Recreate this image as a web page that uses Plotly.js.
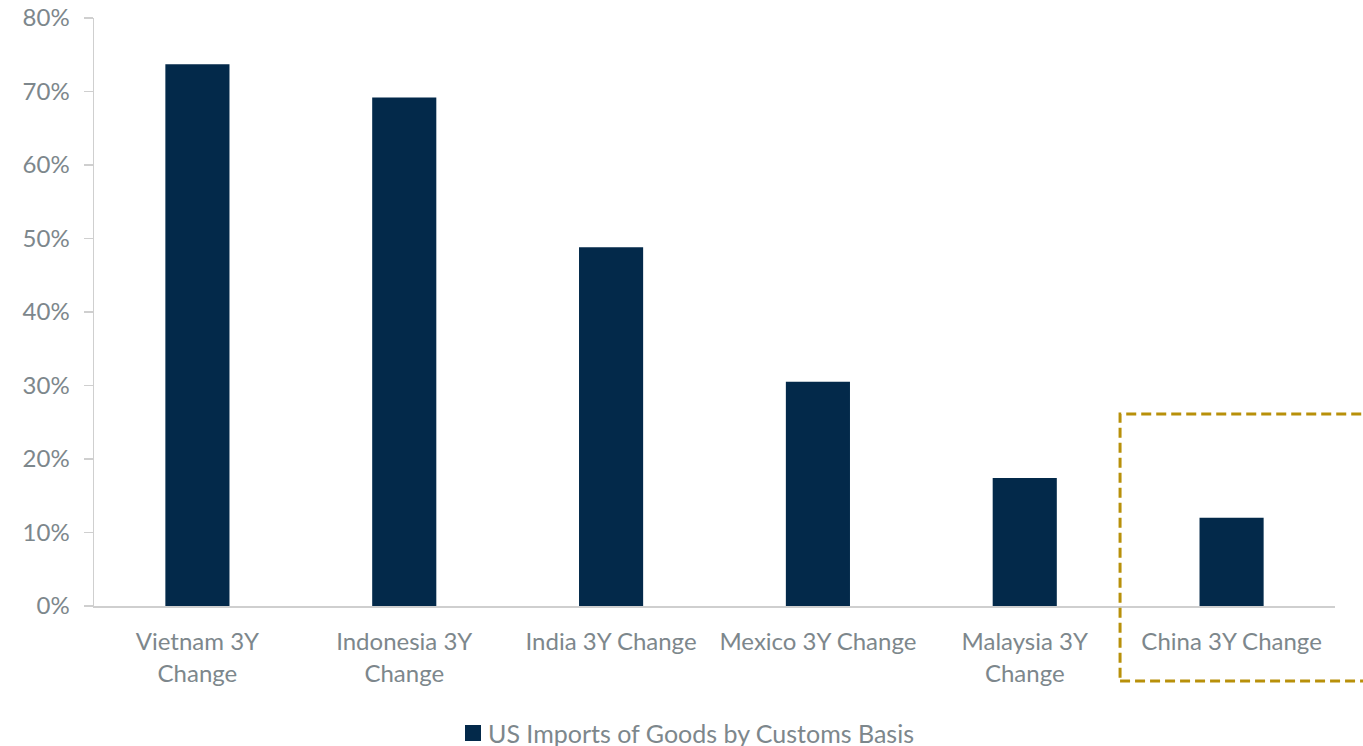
<!DOCTYPE html>
<html>
<head>
<meta charset="utf-8">
<script src="https://cdn.plot.ly/plotly-3.0.1.min.js"></script>
<style>
  html, body { margin: 0; padding: 0; background: #ffffff; }
  #chart { width: 1363px; height: 746px; }
</style>
</head>
<body>
<div id="chart"></div>
<script>
// Three-year change in US goods imports, by trading partner
const categories = [
  "Vietnam 3Y<br>Change",
  "Indonesia 3Y<br>Change",
  "India 3Y Change",
  "Mexico 3Y Change",
  "Malaysia 3Y<br>Change",
  "China 3Y Change"
];
const changeValues = [0.737, 0.692, 0.488, 0.305, 0.174, 0.120];
const seriesName = "US Imports of Goods by Customs Basis";
const yTickValues = [0, 0.1, 0.2, 0.3, 0.4, 0.5, 0.6, 0.7, 0.8];

const navy = "#03294a";
const grey = "#7d878c";
const axisGrey = "#cfcfcf";
const gold = "#b8900a";

const trace = {
  type: "bar",
  x: categories,
  y: changeValues,
  name: seriesName,
  marker: { color: navy },
  hoverinfo: "x+y",
  showlegend: false
};

const layout = {
  width: 1363,
  height: 746,
  margin: { l: 94, r: 28, t: 18, b: 140, autoexpand: false },
  paper_bgcolor: "#ffffff",
  plot_bgcolor: "#ffffff",
  font: { family: "Lato, 'Open Sans', sans-serif", color: grey },
  bargap: 0.69,
  showlegend: false,
  xaxis: {
    type: "category",
    automargin: false,
    showline: true,
    linecolor: axisGrey,
    linewidth: 1.5,
    ticks: "",
    showgrid: false,
    zeroline: false,
    tickfont: { size: 24, color: grey },
    ticklabelstandoff: 14,
    fixedrange: true
  },
  yaxis: {
    automargin: false,
    range: [0, 0.8],
    tickvals: yTickValues,
    tickformat: ".0%",
    showline: true,
    linecolor: axisGrey,
    linewidth: 1.5,
    ticks: "outside",
    ticklen: 9,
    tickcolor: axisGrey,
    tickwidth: 1.5,
    showgrid: false,
    zeroline: false,
    tickfont: { size: 24, color: grey },
    ticklabelstandoff: 9,
    fixedrange: true
  },
  // legend key: navy square followed by the series name
  shapes: [
    {
      type: "rect",
      xref: "paper", yref: "paper",
      x0: (465 - 94) / 1241, x1: (481 - 94) / 1241,
      y0: -(741 - 606) / 588, y1: -(725 - 606) / 588,
      line: { width: 0 },
      fillcolor: navy
    },
    {
      type: "rect",
      xref: "paper", yref: "paper",
      x0: 0.8268, x1: 1.04,
      y0: -0.1276, y1: 0.3265,
      line: { color: gold, width: 3, dash: "10px,5px" },
      fillcolor: "rgba(0,0,0,0)",
      layer: "above"
    }
  ],
  annotations: [{
    xref: "paper", yref: "paper",
    x: (486 - 94) / 1241, xanchor: "left",
    y: -(733 - 606) / 588, yanchor: "middle",
    text: seriesName,
    showarrow: false,
    font: { size: 25, color: grey }
  }]
};

Plotly.newPlot("chart", [trace], layout, { displayModeBar: false, staticPlot: true });
</script>
</body>
</html>
